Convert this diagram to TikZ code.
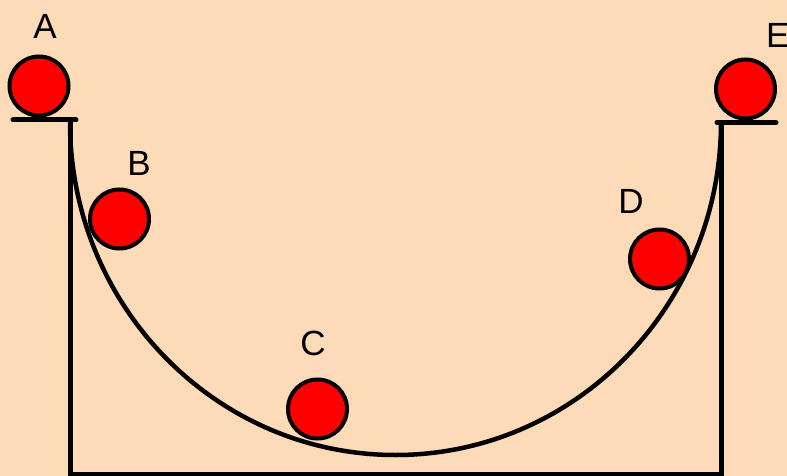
\documentclass[tikz,border=0pt]{standalone}
\usepackage{fontspec}
\setmainfont{Liberation Sans}
\definecolor{bgpeach}{HTML}{FDDAB8}
\definecolor{ballred}{HTML}{FF0000}
\begin{document}
\begin{tikzpicture}[x=1pt,y=-1pt,
  ball/.style={circle,draw=black,line width=4pt,fill=ballred,minimum size=59pt,inner sep=0pt},
  lbl/.style={font=\fontsize{35}{40}\selectfont,inner sep=0pt,text=black},
  track/.style={line width=5pt,line cap=round}]
\fill[bgpeach] (0,0) rectangle (787,476);
\useasboundingbox (0,0) rectangle (787,476);
% structure
\draw[track] (13,120) -- (76,120);
\draw[track] (717,122.5) -- (776,122.5);
\draw[line width=5pt,line join=miter] (70,120) -- (70,474) -- (721,474) -- (721,122.5);
\draw[line width=4.5pt] (70,122) arc[start angle=180,end angle=0,x radius=325.5,y radius=333];
% balls
\node[ball] (ballA) at (39,86) {};
\node[ball] (ballB) at (119.5,219) {};
\node[ball] (ballC) at (317.5,409) {};
\node[ball] (ballD) at (659.5,259) {};
\node[ball] (ballE) at (745.5,89) {};
% labels
\node[lbl] (labA) at (45,26) {A};
\node[lbl] (labB) at (139,163) {B};
\node[lbl] (labC) at (313,343) {C};
\node[lbl] (labD) at (631,201) {D};
\node[lbl,anchor=west] (labE) at (766,35) {E};
\end{tikzpicture}
\end{document}
